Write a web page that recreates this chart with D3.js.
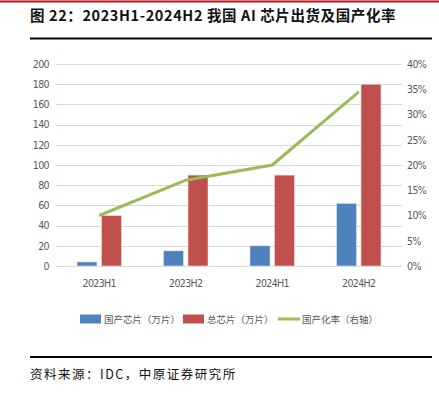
<!DOCTYPE html>
<html>
<head>
<meta charset="utf-8">
<script src="https://cdn.jsdelivr.net/npm/d3@7"></script>
<style>
  body { margin: 0; background: #fff; }
  svg { display: block; }
  .tick text { font-family: "Liberation Sans Narrow", "DejaVu Sans Condensed", "Liberation Sans", sans-serif; letter-spacing: -0.6px; }
</style>
</head>
<body>
<div id="chart"></div>
<script>
const categories = ['2023H1', '2023H2', '2024H1', '2024H2'];
const domestic = [4, 15, 20, 62];
const total = [50, 90, 90, 180];
const rate = [0.10, 0.17, 0.20, 0.345];
const leftTicks = d3.range(0, 201, 20);
const rightTicks = d3.range(0, 0.41, 0.05);
const seriesNames = ['国产芯片（万片）', '总芯片（万片）', '国产化率（右轴）'];

const w = 439;
const h = 395;
const cjk = '"Noto Sans CJK SC", "Liberation Sans", sans-serif';

const svg = d3.select('#chart')
	.append('svg')
	.attr('width', w)
	.attr('height', h);

// header
svg.append('line')
	.attr('x1', 0).attr('x2', w)
	.attr('y1', 1.5).attr('y2', 1.5)
	.attr('stroke', '#b3121c').attr('stroke-width', 2);

svg.append('text')
	.attr('x', 30).attr('y', 21)
	.attr('font-family', cjk)
	.attr('font-weight', 'bold')
	.attr('font-size', 14.5)
	.attr('letter-spacing', 0.6)
	.attr('fill', '#111')
	.text('图 22：2023H1-2024H2 我国 AI 芯片出货及国产化率');

svg.append('line')
	.attr('x1', 30).attr('x2', 432)
	.attr('y1', 38.5).attr('y2', 38.5)
	.attr('stroke', '#000').attr('stroke-width', 2);

const x0 = 56, x1 = 402, yTop = 64, yBot = 266;

const x = d3.scaleBand().domain(categories).range([x0, x1]);
const yL = d3.scaleLinear().domain([0, 200]).range([yBot, yTop]);
const yR = d3.scaleLinear().domain([0, 0.4]).range([yBot, yTop]);

// grid
svg.append('g')
	.selectAll('line')
	.data(leftTicks)
	.enter()
	.append('line')
	.attr('x1', x0).attr('x2', x1)
	.attr('y1', d => Math.round(yL(d)) + 0.5)
	.attr('y2', d => Math.round(yL(d)) + 0.5)
	.attr('stroke', '#d9d9d9')
	.attr('stroke-width', 1);

const axisL = svg.append('g')
	.attr('transform', `translate(${x0},0)`)
	.call(d3.axisLeft(yL).tickValues(leftTicks).tickSize(0).tickPadding(7));
axisL.select('.domain').remove();
axisL.selectAll('text').attr('font-size', 10.5).attr('fill', '#595959');

const axisR = svg.append('g')
	.attr('transform', `translate(${x1},0)`)
	.call(d3.axisRight(yR).tickValues(rightTicks).tickSize(0).tickPadding(5)
		.tickFormat(d => Math.round(d * 100) + '%'));
axisR.select('.domain').remove();
axisR.selectAll('text').attr('font-size', 10.5).attr('fill', '#595959');

const axisB = svg.append('g')
	.attr('transform', `translate(0,${yBot})`)
	.call(d3.axisBottom(x).tickSize(0).tickPadding(14));
axisB.select('.domain').remove();
axisB.selectAll('text').attr('font-size', 10.5).attr('fill', '#595959');

// bars
const barW = 20, gap = 4.5;
svg.append('g')
	.selectAll('rect')
	.data(domestic)
	.enter()
	.append('rect')
	.attr('x', (d, i) => x(categories[i]) + x.bandwidth() / 2 - gap / 2 - barW)
	.attr('y', d => yL(d))
	.attr('width', barW)
	.attr('height', d => yBot - yL(d))
	.attr('fill', '#4f81bd')
	.attr('stroke', '#dbe5f1')
	.attr('stroke-width', 0.6);

svg.append('g')
	.selectAll('rect')
	.data(total)
	.enter()
	.append('rect')
	.attr('x', (d, i) => x(categories[i]) + x.bandwidth() / 2 + gap / 2)
	.attr('y', d => yL(d))
	.attr('width', barW)
	.attr('height', d => yBot - yL(d))
	.attr('fill', '#c0504d')
	.attr('stroke', '#f2dcdb')
	.attr('stroke-width', 0.6);

// line
const line = d3.line()
	.x((d, i) => x(categories[i]) + x.bandwidth() / 2)
	.y(d => yR(d));

svg.append('path')
	.datum(rate)
	.attr('d', line)
	.attr('fill', 'none')
	.attr('stroke', '#9bbb59')
	.attr('stroke-width', 3);

// legend
const lg = svg.append('g').attr('font-family', cjk).attr('font-size', 9.5).attr('fill', '#595959');
const legendItems = [
	{ name: seriesNames[0], color: '#4f81bd', type: 'rect', x: 80 },
	{ name: seriesNames[1], color: '#c0504d', type: 'rect', x: 183 },
	{ name: seriesNames[2], color: '#9bbb59', type: 'line', x: 278 }
];
const ly = 319;
legendItems.forEach(it => {
	if (it.type === 'rect') {
		lg.append('rect').attr('x', it.x).attr('y', ly - 4.5).attr('width', 21).attr('height', 9).attr('fill', it.color);
	} else {
		lg.append('line').attr('x1', it.x).attr('x2', it.x + 22).attr('y1', ly).attr('y2', ly)
			.attr('stroke', it.color).attr('stroke-width', 3);
	}
	lg.append('text').attr('x', it.x + 24).attr('y', ly + 3.5).text(it.name);
});

// footer
svg.append('line')
	.attr('x1', 30).attr('x2', 432)
	.attr('y1', 357).attr('y2', 357)
	.attr('stroke', '#000').attr('stroke-width', 2);

svg.append('text')
	.attr('x', 30).attr('y', 379)
	.attr('font-family', cjk)
	.attr('font-size', 12.5)
	.attr('letter-spacing', 1.5)
	.attr('fill', '#111')
	.text('资料来源：IDC，中原证券研究所');
</script>
</body>
</html>
